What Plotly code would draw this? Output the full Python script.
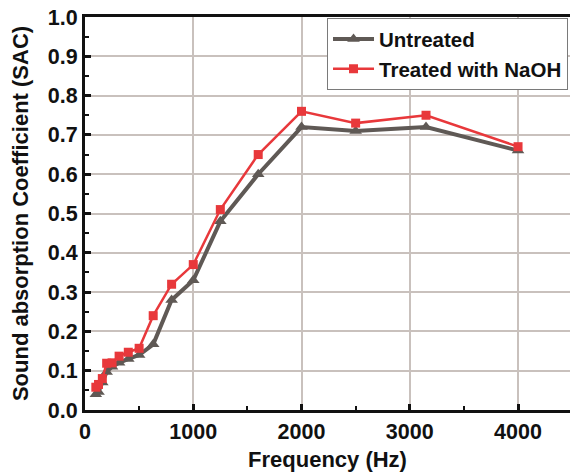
import plotly.graph_objects as go

freq = [100, 125, 160, 200, 250, 315, 400, 500, 630, 800, 1000, 1250, 1600, 2000, 2500, 3150, 4000]
untreated = [0.04, 0.046, 0.07, 0.097, 0.11, 0.12, 0.13, 0.14, 0.167, 0.28, 0.33, 0.48, 0.60, 0.72, 0.71, 0.72, 0.66]
treated = [0.058, 0.065, 0.08, 0.119, 0.12, 0.137, 0.147, 0.157, 0.24, 0.32, 0.37, 0.51, 0.65, 0.76, 0.73, 0.75, 0.67]

x_ticks = [0, 1000, 2000, 3000, 4000]
y_ticks = [0.0, 0.1, 0.2, 0.3, 0.4, 0.5, 0.6, 0.7, 0.8, 0.9, 1.0]

font_family = "Liberation Sans, Arial, sans-serif"

fig = go.Figure()
fig.add_trace(go.Scatter(
    x=freq, y=untreated, name="<b>Untreated</b>", mode="lines+markers",
    line=dict(color="#5f5955", width=4),
    marker=dict(symbol="triangle-up", size=11, color="#5f5955"),
))
fig.add_trace(go.Scatter(
    x=freq, y=treated, name="<b>Treated with NaOH</b>", mode="lines+markers",
    line=dict(color="#e8383b", width=2.5),
    marker=dict(symbol="square", size=9, color="#e8383b"),
))

fig.update_layout(
    width=570, height=472,
    margin=dict(l=85, r=0, t=17, b=62, autoexpand=False),
    paper_bgcolor="white", plot_bgcolor="white",
    font=dict(family=font_family, color="#111111"),
    legend=dict(
        x=0.499, y=0.997, xanchor="left", yanchor="top",
        bgcolor="white", bordercolor="#7a7a7a", borderwidth=1,
        font=dict(size=20.5, family=font_family, color="#111111"),
        itemwidth=41, tracegroupgap=0,
    ),
    showlegend=True,
)

fig.update_xaxes(
    range=[0, 4480], automargin=False,
    tickvals=x_ticks, ticktext=["<b>%d</b>" % v for v in x_ticks],
    tickfont=dict(size=21.5, family=font_family, color="#111111"),
    showline=True, linecolor="#111111", linewidth=3, mirror=True,
    ticks="inside", ticklen=6, tickwidth=3, tickcolor="#111111",
    minor=dict(dtick=500, tick0=0, ticks="inside", ticklen=4, tickwidth=2, tickcolor="#111111", showgrid=False),
    showgrid=True, gridcolor="#c9c1bd", gridwidth=1.5,
    zeroline=False,
    title=dict(text="<b>Frequency (Hz)</b>", font=dict(size=22, family=font_family, color="#111111"), standoff=10),
)
fig.update_yaxes(
    range=[0, 1.0], automargin=False,
    tickvals=y_ticks, ticktext=["<b>%.1f</b>" % v for v in y_ticks],
    tickfont=dict(size=21.5, family=font_family, color="#111111"),
    showline=True, linecolor="#111111", linewidth=3, mirror=False,
    ticks="inside", ticklen=6, tickwidth=3, tickcolor="#111111",
    minor=dict(dtick=0.05, tick0=0, ticks="inside", ticklen=4, tickwidth=2, tickcolor="#111111", showgrid=False),
    showgrid=True, gridcolor="#c9c1bd", gridwidth=1.5,
    zeroline=False,
    title=dict(text="<b>Sound absorption Coefficient (SAC)</b>", font=dict(size=22, family=font_family, color="#111111"), standoff=14),
)

fig.write_html("out.html")
